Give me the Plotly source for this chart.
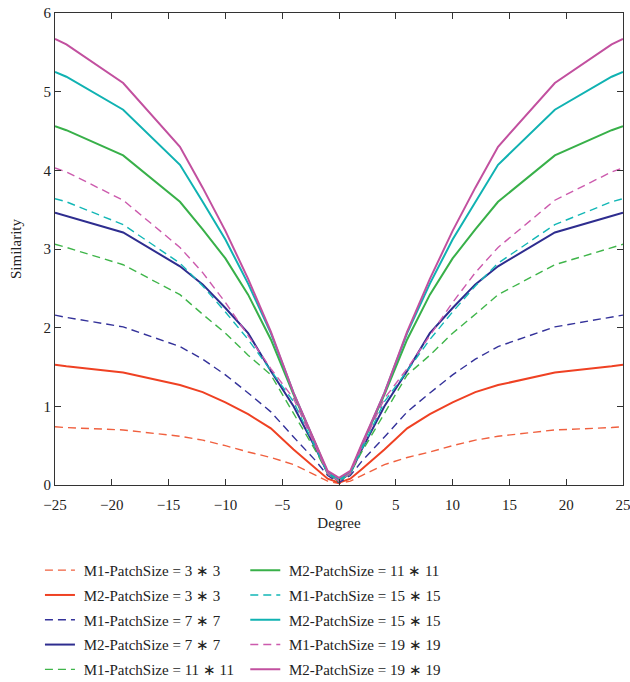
import plotly.graph_objects as go

degree = [-25, -24, -19, -14, -12, -10, -8, -6, -4, -2, -1, 0,
          1, 2, 4, 6, 8, 10, 12, 14, 19, 24, 25]

m1_3 = [0.74, 0.73, 0.70, 0.62, 0.57, 0.50, 0.42, 0.35, 0.26, 0.12, 0.05, 0.02,
        0.05, 0.12, 0.26, 0.35, 0.42, 0.50, 0.57, 0.62, 0.70, 0.73, 0.74]
m2_3 = [1.53, 1.51, 1.43, 1.27, 1.18, 1.05, 0.90, 0.72, 0.45, 0.20, 0.08, 0.03,
        0.08, 0.20, 0.45, 0.72, 0.90, 1.05, 1.18, 1.27, 1.43, 1.51, 1.53]
m1_7 = [2.16, 2.13, 2.01, 1.76, 1.60, 1.40, 1.17, 0.93, 0.61, 0.30, 0.12, 0.03,
        0.12, 0.30, 0.61, 0.93, 1.17, 1.40, 1.60, 1.76, 2.01, 2.13, 2.16]
m2_7 = [3.46, 3.42, 3.21, 2.78, 2.55, 2.25, 1.93, 1.45, 1.00, 0.45, 0.15, 0.05,
        0.15, 0.45, 1.00, 1.45, 1.93, 2.25, 2.55, 2.78, 3.21, 3.42, 3.46]
m1_11 = [3.06, 3.02, 2.80, 2.42, 2.17, 1.93, 1.65, 1.40, 0.91, 0.42, 0.15, 0.04,
         0.15, 0.42, 0.91, 1.40, 1.65, 1.93, 2.17, 2.42, 2.80, 3.02, 3.06]
m2_11 = [4.56, 4.51, 4.19, 3.60, 3.25, 2.88, 2.42, 1.85, 1.15, 0.50, 0.15, 0.06,
         0.15, 0.50, 1.15, 1.85, 2.42, 2.88, 3.25, 3.60, 4.19, 4.51, 4.56]
m1_15 = [3.64, 3.60, 3.31, 2.82, 2.53, 2.20, 1.85, 1.45, 1.06, 0.45, 0.15, 0.05,
         0.15, 0.45, 1.06, 1.45, 1.85, 2.20, 2.53, 2.82, 3.31, 3.60, 3.64]
m2_15 = [5.25, 5.19, 4.77, 4.07, 3.60, 3.12, 2.56, 1.93, 1.17, 0.50, 0.16, 0.07,
         0.16, 0.50, 1.17, 1.93, 2.56, 3.12, 3.60, 4.07, 4.77, 5.19, 5.25]
m1_19 = [4.03, 3.98, 3.62, 3.02, 2.70, 2.32, 1.90, 1.48, 1.10, 0.48, 0.15, 0.05,
         0.15, 0.48, 1.10, 1.48, 1.90, 2.32, 2.70, 3.02, 3.62, 3.98, 4.03]
m2_19 = [5.67, 5.60, 5.11, 4.30, 3.78, 3.23, 2.62, 1.95, 1.17, 0.52, 0.18, 0.09,
         0.18, 0.52, 1.17, 1.95, 2.62, 3.23, 3.78, 4.30, 5.11, 5.60, 5.67]

names = ["M1-PatchSize = 3 \u2217 3", "M2-PatchSize = 3 \u2217 3",
         "M1-PatchSize = 7 \u2217 7", "M2-PatchSize = 7 \u2217 7",
         "M1-PatchSize = 11 \u2217 11", "M2-PatchSize = 11 \u2217 11",
         "M1-PatchSize = 15 \u2217 15", "M2-PatchSize = 15 \u2217 15",
         "M1-PatchSize = 19 \u2217 19", "M2-PatchSize = 19 \u2217 19"]
series = [m1_3, m2_3, m1_7, m2_7, m1_11, m2_11, m1_15, m2_15, m1_19, m2_19]
colors = ["#f0603f", "#ef4123", "#34329a", "#2e2d8f", "#3fb54a", "#38b049",
          "#12b7b6", "#10b2b2", "#cc5aad", "#c2509f"]

fig = go.Figure()
for i, (nm, ys, c) in enumerate(zip(names, series, colors)):
    dashed = nm.startswith("M1")
    fig.add_trace(go.Scatter(
        x=degree, y=ys, mode="lines", name="\u00a0" + nm,
        line=dict(color=c, width=1.4 if dashed else 2,
                  dash="8px,5px" if dashed else "solid"),
        legend="legend" if i < 5 else "legend2",
        legendgroup=f"g{i}",
    ))

font = dict(family="Liberation Serif, Times New Roman, serif", size=15, color="#222")
axis_common = dict(showline=True, linecolor="#333", linewidth=1.2, mirror="ticks",
                   ticks="inside", ticklen=6, tickcolor="#333", showgrid=False,
                   zeroline=False, tickfont=font, automargin=False,
                   ticklabeloverflow="allow")

fig.update_layout(
    width=630, height=682,
    margin=dict(l=55, r=7, t=13, b=197, autoexpand=False),
    paper_bgcolor="white", plot_bgcolor="white",
    font=font,
    showlegend=True,
    hovermode=False,
    xaxis=dict(range=[-25, 25], tickvals=[-25, -20, -15, -10, -5, 0, 5, 10, 15, 20, 25],
               ticklabelstandoff=6,
               title=dict(text="Degree", font=font, standoff=5), **axis_common),
    yaxis=dict(range=[0, 6], tickvals=[0, 1, 2, 3, 4, 5, 6],
               title=dict(text="Similarity", font=font, standoff=18), **axis_common),
    legend=dict(x=-0.0265, y=-0.146, xanchor="left", yanchor="top", orientation="v",
                font=font, bgcolor="rgba(0,0,0,0)", tracegroupgap=2.3,
                itemwidth=30),
    legend2=dict(x=0.335, y=-0.146, xanchor="left", yanchor="top", orientation="v",
                 font=font, bgcolor="rgba(0,0,0,0)", tracegroupgap=2.3,
                 itemwidth=30),
)

post = ("var s=document.createElement('style');"
        "s.innerHTML='html,body{margin:0;padding:0;overflow:hidden;height:682px;width:630px;}"
        ".plotly-graph-div{display:block;}';"
        "document.head.appendChild(s);")

fig.write_html("out.html", config={"displayModeBar": False}, post_script=post)
